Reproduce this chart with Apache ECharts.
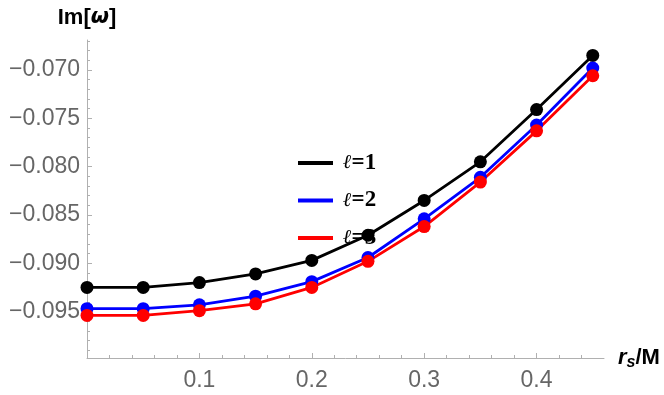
<!DOCTYPE html>
<html>
<head>
<meta charset="utf-8">
<script src="https://cdn.jsdelivr.net/npm/echarts@6/dist/echarts.min.js"></script>
<style>html,body{margin:0;padding:0;background:#fff}#c{width:664px;height:395px}</style>
</head>
<body>
<div id="c"></div>
<script>
const xs = [0, 0.05, 0.1, 0.15, 0.2, 0.25, 0.3, 0.35, 0.4, 0.45];
const l1 = [-0.0925, -0.0925, -0.0920, -0.0911, -0.0897, -0.0871, -0.0835, -0.0795, -0.0741, -0.0685];
const l2 = [-0.0947, -0.0947, -0.0943, -0.0934, -0.0919, -0.0894, -0.0854, -0.0811, -0.0757, -0.0698];
const l3 = [-0.0954, -0.0954, -0.0949, -0.0942, -0.0925, -0.0898, -0.0862, -0.0816, -0.0763, -0.0706];
const seriesNames = ['ℓ=1', 'ℓ=2', 'ℓ=3'];
const seriesColors = ['#000000', '#0000ff', '#ff0000'];
const yMajor = [-0.095, -0.090, -0.085, -0.080, -0.075, -0.070];
const yMinor = [-0.099,-0.098,-0.097,-0.096,-0.094,-0.093,-0.092,-0.091,-0.089,-0.088,-0.087,-0.086,-0.084,-0.083,-0.082,-0.081,-0.079,-0.078,-0.077,-0.076,-0.074,-0.073,-0.072,-0.071,-0.069,-0.068,-0.067];
const xMajor = [0.1, 0.2, 0.3, 0.4];
const xMinor = [0.02,0.04,0.06,0.08,0.12,0.14,0.16,0.18,0.22,0.24,0.26,0.28,0.32,0.34,0.36,0.38,0.42,0.44];

const X_MIN = 0, X_MAX = 0.46, Y_MIN = -0.0998, Y_MAX = -0.0669;
const axisGray = '#b0b0b0';
const labelGray = '#666666';

const chart = echarts.init(document.getElementById('c'));
const dataSets = [l1, l2, l3];
chart.setOption({
  animation: false,
  backgroundColor: '#fff',
  grid: { left: 87, right: 60, top: 40, bottom: 37, containLabel: false },
  legend: {
    orient: 'vertical', left: 298, top: 151, z: 1, padding: 0,
    itemWidth: 35, itemHeight: 4, itemGap: 13.5, icon: 'rect',
    data: seriesNames,
    formatter: n => '{l|ℓ}{t|' + n.slice(1) + '}',
    textStyle: {
      lineHeight: 24, padding: [0,0,0,5],
      rich: {
        l: { fontFamily: 'DejaVu Serif, Liberation Serif, serif', fontWeight: 'bold', fontStyle: 'italic', fontSize: 20, color: '#000', lineHeight: 24 },
        t: { fontFamily: 'Liberation Serif, serif', fontWeight: 'bold', fontSize: 23, color: '#000', lineHeight: 24 }
      }
    }
  },
  xAxis: [
    {
      type: 'value', min: X_MIN, max: X_MAX,
      name: '{r|r}{s|s}{m|/M}', nameLocation: 'end', nameGap: 14,
      nameTextStyle: { rich: {
        r: { fontFamily: 'Liberation Sans, Arial', fontWeight: 'bold', fontStyle: 'italic', fontSize: 22, color: '#000' },
        s: { fontFamily: 'Liberation Sans, Arial', fontWeight: 'bold', fontStyle: 'italic', fontSize: 16, color: '#000', padding: [10,0,0,0] },
        m: { fontFamily: 'Liberation Sans, Arial', fontWeight: 'bold', fontSize: 22, color: '#000' }
      } },
      axisLine: { onZero: false, lineStyle: { color: axisGray, width: 1 } },
      axisTick: { inside: true, length: 5, customValues: xMajor, lineStyle: { color: axisGray } },
      axisLabel: { customValues: xMajor, margin: 11, fontFamily: 'Liberation Sans, Arial', fontSize: 23, color: labelGray, formatter: v => v.toFixed(1) },
      splitLine: { show: false }
    },
    {
      type: 'value', min: X_MIN, max: X_MAX, position: 'bottom', gridIndex: 0,
      axisLine: { show: false },
      axisTick: { inside: true, length: 3, customValues: xMinor, lineStyle: { color: axisGray } },
      axisLabel: { show: false },
      splitLine: { show: false }
    }
  ],
  yAxis: [
    {
      type: 'value', min: Y_MIN, max: Y_MAX,
      name: '{a|Im[}{b|ω}{a|]}', nameLocation: 'end', nameGap: 11,
      nameTextStyle: { align: 'center', rich: {
        a: { fontFamily: 'Liberation Sans, Arial', fontWeight: 'bold', fontSize: 22, color: '#000' },
        b: { fontFamily: 'DejaVu Sans, Liberation Sans', fontWeight: 'bold', fontStyle: 'italic', fontSize: 21, color: '#000' }
      } },
      axisLine: { onZero: false, lineStyle: { color: axisGray, width: 1 } },
      axisTick: { inside: true, length: 5, customValues: yMajor, lineStyle: { color: axisGray } },
      axisLabel: { customValues: yMajor, margin: 7, fontFamily: 'Liberation Sans, Arial', fontSize: 23, color: labelGray, formatter: v => '\u2212' + Math.abs(v).toFixed(3) },
      splitLine: { show: false }
    },
    {
      type: 'value', min: Y_MIN, max: Y_MAX, position: 'left', gridIndex: 0,
      axisLine: { show: false },
      axisTick: { inside: true, length: 3, customValues: yMinor, lineStyle: { color: axisGray } },
      axisLabel: { show: false },
      splitLine: { show: false }
    }
  ],
  series: dataSets.map((d, i) => ({
    name: seriesNames[i], type: 'line', xAxisIndex: 0, yAxisIndex: 0, z: 3,
    data: xs.map((x, j) => [x, d[j]]),
    color: seriesColors[i],
    symbol: 'circle', symbolSize: 13,
    lineStyle: { width: 2.8, color: seriesColors[i] },
    itemStyle: { color: seriesColors[i] }
  }))
});
</script>
</body>
</html>
